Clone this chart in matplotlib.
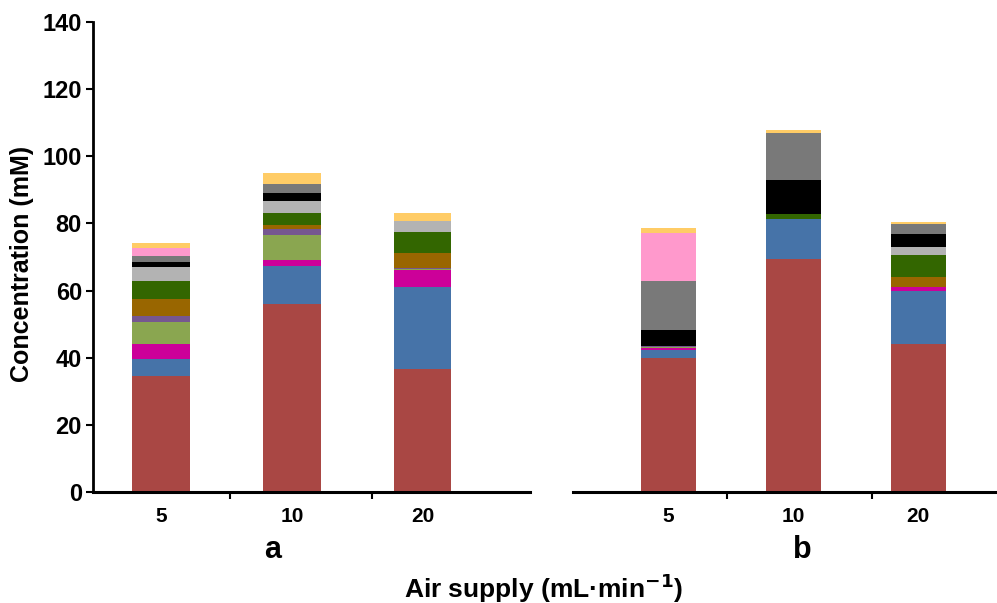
import matplotlib.pyplot as plt
import numpy as np

plt.rcParams['font.family'] = ['Liberation Sans', 'DejaVu Sans']
plt.rcParams['font.weight'] = 'bold'

rates = ['5', '10', '20']

# stacked components, bottom to top (mM)
comp_a = {
    'red':        [34.7, 56.1, 36.6],
    'blue':       [4.9, 11.2, 24.5],
    'magenta':    [4.5, 1.8, 5.0],
    'lightgreen': [6.5, 7.5, 0.3],
    'purple':     [1.9, 1.7, 0.4],
    'orange':     [5.0, 1.2, 4.5],
    'darkgreen':  [5.4, 3.6, 6.2],
    'lightgray':  [4.1, 3.6, 3.3],
    'black':      [1.5, 2.4, 0.0],
    'gray':       [1.8, 2.6, 0.0],
    'pink':       [2.5, 0.0, 0.0],
    'yellow':     [1.4, 3.4, 2.4],
}
comp_b = {
    'red':        [40.0, 69.4, 44.1],
    'blue':       [2.4, 11.9, 15.8],
    'magenta':    [0.6, 0.0, 1.2],
    'lightgreen': [0.2, 0.0, 0.0],
    'purple':     [0.4, 0.0, 0.0],
    'orange':     [0.0, 0.0, 2.9],
    'darkgreen':  [0.0, 1.5, 6.6],
    'lightgray':  [0.0, 0.0, 2.4],
    'black':      [4.8, 10.1, 3.9],
    'gray':       [14.6, 14.0, 2.9],
    'pink':       [14.1, 0.0, 0.0],
    'yellow':     [1.4, 0.9, 0.6],
}
colors = {
    'red': '#A94744', 'blue': '#4673A8', 'magenta': '#CC0099',
    'lightgreen': '#8AA650', 'purple': '#765790', 'orange': '#996600',
    'darkgreen': '#336600', 'lightgray': '#B3B3B3', 'black': '#000000',
    'gray': '#797979', 'pink': '#FF99CC', 'yellow': '#FFCC66',
}

fig = plt.figure(figsize=(9.97, 6.03), dpi=100)
ax1 = fig.add_axes([93 / 997, 111 / 603, 437 / 997, 470 / 603])
ax2 = fig.add_axes([573 / 997, 111 / 603, 424 / 997, 470 / 603])


def draw(ax, comp, xlim, minor):
    x = np.arange(len(rates))
    bottom = np.zeros(len(rates))
    for name, vals in comp.items():
        ax.bar(x, vals, width=0.44, bottom=bottom, color=colors[name], linewidth=0)
        bottom += np.array(vals)
    ax.set_xlim(*xlim)
    ax.set_ylim(0, 140)
    ax.set_xticks(x)
    ax.set_xticklabels(rates, fontsize=15, fontweight='bold')
    ax.tick_params(axis='x', which='major', length=0, pad=11)
    ax.set_xticks(minor, minor=True)
    ax.tick_params(axis='x', which='minor', length=5, width=1.5, direction='out')
    for s in ['top', 'right']:
        ax.spines[s].set_visible(False)
    ax.spines['bottom'].set_linewidth(2.2)


draw(ax1, comp_a, (-0.52, 2.82), [0.53, 1.61])
draw(ax2, comp_b, (-0.76, 2.63), [0.47, 1.63])

ax1.spines['left'].set_linewidth(2)
ax1.set_yticks(np.arange(0, 141, 20))
ax1.tick_params(axis='y', length=5, width=1.5, labelsize=17, pad=3)
for lbl in ax1.get_yticklabels():
    lbl.set_fontweight('bold')

ax2.spines['left'].set_visible(False)
ax2.set_yticks([])

fig.text(22 / 997, 1 - 264 / 603, 'Concentration (mM)', rotation=90, ha='center', va='center',
         fontsize=18, fontweight='bold')
fig.text(273 / 997, 1 - 550 / 603, 'a', ha='center', va='center', fontsize=22, fontweight='bold')
fig.text(802 / 997, 1 - 550 / 603, 'b', ha='center', va='center', fontsize=22, fontweight='bold')
fig.text(544 / 997, 1 - 588 / 603, 'Air supply (mL·min$^{\\mathbf{-1}}$)', ha='center', va='center',
         fontsize=19, fontweight='bold')

fig.savefig('out.png', dpi=100)
